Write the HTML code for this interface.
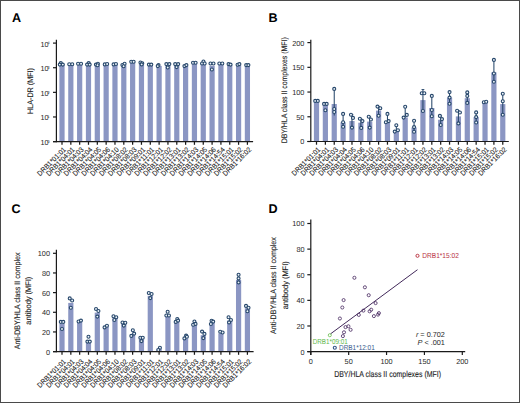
<!DOCTYPE html>
<html><head><meta charset="utf-8"><style>
html,body{margin:0;padding:0;background:#fff;width:520px;height:403px;overflow:hidden}
svg{display:block}
</style></head><body>
<svg width="520" height="403" viewBox="0 0 520 403">
<style>text{font-family:"Liberation Sans",sans-serif;fill:#333;text-rendering:geometricPrecision}.tk{font-size:7.3px;fill:#2a2a2a}.xl{font-size:7.2px;fill:#1e1e1e;stroke:#1e1e1e;stroke-width:0.1px}.pl{font-size:12.6px;font-weight:bold;fill:#000}.yl{font-size:7.2px;fill:#1e1e1e;stroke:#1e1e1e;stroke-width:0.12px}.sup{font-size:3.8px;fill:#2a2a2a}</style>
<rect x="0" y="0" width="520" height="403" fill="#fff"/>
<rect x="0.5" y="0.5" width="519" height="402" fill="none" stroke="#4a4a4a" stroke-width="1"/>
<text x="11.9" y="21.5" class="pl">A</text>
<text x="268.4" y="21.7" class="pl">B</text>
<text x="11.4" y="213" class="pl">C</text>
<text x="268.4" y="213" class="pl">D</text>
<rect x="59.40" y="64.40" width="5.20" height="77.20" fill="#8b96c3"/>
<rect x="68.23" y="64.50" width="5.20" height="77.10" fill="#8b96c3"/>
<rect x="77.06" y="64.00" width="5.20" height="77.60" fill="#8b96c3"/>
<rect x="85.89" y="64.40" width="5.20" height="77.20" fill="#8b96c3"/>
<rect x="94.72" y="64.80" width="5.20" height="76.80" fill="#8b96c3"/>
<rect x="103.55" y="64.50" width="5.20" height="77.10" fill="#8b96c3"/>
<rect x="112.37" y="64.50" width="5.20" height="77.10" fill="#8b96c3"/>
<rect x="121.20" y="65.27" width="5.20" height="76.33" fill="#8b96c3"/>
<rect x="130.03" y="62.00" width="5.20" height="79.60" fill="#8b96c3"/>
<rect x="138.86" y="63.70" width="5.20" height="77.90" fill="#8b96c3"/>
<rect x="147.69" y="64.90" width="5.20" height="76.70" fill="#8b96c3"/>
<rect x="156.52" y="65.90" width="5.20" height="75.70" fill="#8b96c3"/>
<rect x="165.35" y="65.53" width="5.20" height="76.07" fill="#8b96c3"/>
<rect x="174.18" y="65.40" width="5.20" height="76.20" fill="#8b96c3"/>
<rect x="183.01" y="65.90" width="5.20" height="75.70" fill="#8b96c3"/>
<rect x="191.84" y="63.00" width="5.20" height="78.60" fill="#8b96c3"/>
<rect x="200.66" y="63.13" width="5.20" height="78.47" fill="#8b96c3"/>
<rect x="209.49" y="65.80" width="5.20" height="75.80" fill="#8b96c3"/>
<rect x="218.32" y="63.80" width="5.20" height="77.80" fill="#8b96c3"/>
<rect x="227.15" y="64.65" width="5.20" height="76.95" fill="#8b96c3"/>
<rect x="235.98" y="64.70" width="5.20" height="76.90" fill="#8b96c3"/>
<rect x="244.81" y="65.40" width="5.20" height="76.20" fill="#8b96c3"/>
<circle cx="60.80" cy="63.10" r="1.5" fill="#eef5fb" stroke="#27476b" stroke-width="1.1"/>
<circle cx="59.80" cy="64.60" r="1.5" fill="#eef5fb" stroke="#27476b" stroke-width="1.1"/>
<circle cx="62.80" cy="64.60" r="1.5" fill="#eef5fb" stroke="#27476b" stroke-width="1.1"/>
<circle cx="69.23" cy="64.20" r="1.5" fill="#eef5fb" stroke="#27476b" stroke-width="1.1"/>
<circle cx="72.23" cy="64.20" r="1.5" fill="#eef5fb" stroke="#27476b" stroke-width="1.1"/>
<circle cx="78.06" cy="63.70" r="1.5" fill="#eef5fb" stroke="#27476b" stroke-width="1.1"/>
<circle cx="81.06" cy="63.70" r="1.5" fill="#eef5fb" stroke="#27476b" stroke-width="1.1"/>
<circle cx="88.69" cy="63.10" r="1.5" fill="#eef5fb" stroke="#27476b" stroke-width="1.1"/>
<circle cx="87.09" cy="64.60" r="1.5" fill="#eef5fb" stroke="#27476b" stroke-width="1.1"/>
<circle cx="89.69" cy="64.60" r="1.5" fill="#eef5fb" stroke="#27476b" stroke-width="1.1"/>
<circle cx="95.92" cy="64.60" r="1.5" fill="#eef5fb" stroke="#27476b" stroke-width="1.1"/>
<circle cx="97.92" cy="63.70" r="1.5" fill="#eef5fb" stroke="#27476b" stroke-width="1.1"/>
<circle cx="97.52" cy="65.20" r="1.5" fill="#eef5fb" stroke="#27476b" stroke-width="1.1"/>
<circle cx="104.75" cy="64.40" r="1.5" fill="#eef5fb" stroke="#27476b" stroke-width="1.1"/>
<circle cx="107.15" cy="64.00" r="1.5" fill="#eef5fb" stroke="#27476b" stroke-width="1.1"/>
<circle cx="113.57" cy="64.40" r="1.5" fill="#eef5fb" stroke="#27476b" stroke-width="1.1"/>
<circle cx="115.97" cy="64.00" r="1.5" fill="#eef5fb" stroke="#27476b" stroke-width="1.1"/>
<circle cx="122.40" cy="65.00" r="1.5" fill="#eef5fb" stroke="#27476b" stroke-width="1.1"/>
<circle cx="124.60" cy="63.70" r="1.5" fill="#eef5fb" stroke="#27476b" stroke-width="1.1"/>
<circle cx="123.60" cy="66.20" r="1.5" fill="#eef5fb" stroke="#27476b" stroke-width="1.1"/>
<circle cx="131.23" cy="61.70" r="1.5" fill="#eef5fb" stroke="#27476b" stroke-width="1.1"/>
<circle cx="133.63" cy="61.70" r="1.5" fill="#eef5fb" stroke="#27476b" stroke-width="1.1"/>
<circle cx="140.46" cy="62.50" r="1.5" fill="#eef5fb" stroke="#27476b" stroke-width="1.1"/>
<circle cx="142.26" cy="63.30" r="1.5" fill="#eef5fb" stroke="#27476b" stroke-width="1.1"/>
<circle cx="141.66" cy="64.40" r="1.5" fill="#eef5fb" stroke="#27476b" stroke-width="1.1"/>
<circle cx="148.89" cy="64.60" r="1.5" fill="#eef5fb" stroke="#27476b" stroke-width="1.1"/>
<circle cx="151.29" cy="64.60" r="1.5" fill="#eef5fb" stroke="#27476b" stroke-width="1.1"/>
<circle cx="158.52" cy="65.10" r="1.5" fill="#eef5fb" stroke="#27476b" stroke-width="1.1"/>
<circle cx="157.72" cy="66.10" r="1.5" fill="#eef5fb" stroke="#27476b" stroke-width="1.1"/>
<circle cx="166.35" cy="64.10" r="1.5" fill="#eef5fb" stroke="#27476b" stroke-width="1.1"/>
<circle cx="169.35" cy="64.10" r="1.5" fill="#eef5fb" stroke="#27476b" stroke-width="1.1"/>
<circle cx="167.75" cy="67.50" r="1.5" fill="#eef5fb" stroke="#27476b" stroke-width="1.1"/>
<circle cx="175.18" cy="64.10" r="1.5" fill="#eef5fb" stroke="#27476b" stroke-width="1.1"/>
<circle cx="178.18" cy="64.10" r="1.5" fill="#eef5fb" stroke="#27476b" stroke-width="1.1"/>
<circle cx="176.58" cy="67.10" r="1.5" fill="#eef5fb" stroke="#27476b" stroke-width="1.1"/>
<circle cx="184.41" cy="66.10" r="1.5" fill="#eef5fb" stroke="#27476b" stroke-width="1.1"/>
<circle cx="186.41" cy="65.10" r="1.5" fill="#eef5fb" stroke="#27476b" stroke-width="1.1"/>
<circle cx="193.03" cy="62.70" r="1.5" fill="#eef5fb" stroke="#27476b" stroke-width="1.1"/>
<circle cx="195.63" cy="62.70" r="1.5" fill="#eef5fb" stroke="#27476b" stroke-width="1.1"/>
<circle cx="203.46" cy="61.50" r="1.5" fill="#eef5fb" stroke="#27476b" stroke-width="1.1"/>
<circle cx="202.06" cy="63.50" r="1.5" fill="#eef5fb" stroke="#27476b" stroke-width="1.1"/>
<circle cx="204.66" cy="63.50" r="1.5" fill="#eef5fb" stroke="#27476b" stroke-width="1.1"/>
<circle cx="210.49" cy="63.50" r="1.5" fill="#eef5fb" stroke="#27476b" stroke-width="1.1"/>
<circle cx="213.49" cy="63.50" r="1.5" fill="#eef5fb" stroke="#27476b" stroke-width="1.1"/>
<circle cx="211.89" cy="69.50" r="1.5" fill="#eef5fb" stroke="#27476b" stroke-width="1.1"/>
<circle cx="219.32" cy="63.50" r="1.5" fill="#eef5fb" stroke="#27476b" stroke-width="1.1"/>
<circle cx="222.32" cy="63.50" r="1.5" fill="#eef5fb" stroke="#27476b" stroke-width="1.1"/>
<circle cx="228.55" cy="64.10" r="1.5" fill="#eef5fb" stroke="#27476b" stroke-width="1.1"/>
<circle cx="230.55" cy="64.60" r="1.5" fill="#eef5fb" stroke="#27476b" stroke-width="1.1"/>
<circle cx="237.58" cy="64.70" r="1.5" fill="#eef5fb" stroke="#27476b" stroke-width="1.1"/>
<circle cx="239.38" cy="64.10" r="1.5" fill="#eef5fb" stroke="#27476b" stroke-width="1.1"/>
<circle cx="246.21" cy="65.10" r="1.5" fill="#eef5fb" stroke="#27476b" stroke-width="1.1"/>
<circle cx="248.41" cy="65.10" r="1.5" fill="#eef5fb" stroke="#27476b" stroke-width="1.1"/>
<line x1="56.40" y1="39.80" x2="56.40" y2="142.20" stroke="#1a1a1a" stroke-width="1.2"/>
<line x1="53.00" y1="141.60" x2="253.10" y2="141.60" stroke="#1a1a1a" stroke-width="1.1"/>
<line x1="62.00" y1="141.60" x2="62.00" y2="144.80" stroke="#1a1a1a" stroke-width="1.25"/>
<text transform="translate(66.40,150.10) rotate(-45) scale(0.93,1)" text-anchor="end" class="xl">DRB1*01:01</text>
<line x1="70.83" y1="141.60" x2="70.83" y2="144.80" stroke="#1a1a1a" stroke-width="1.25"/>
<text transform="translate(75.23,150.10) rotate(-45) scale(0.93,1)" text-anchor="end" class="xl">DRB1*04:01</text>
<line x1="79.66" y1="141.60" x2="79.66" y2="144.80" stroke="#1a1a1a" stroke-width="1.25"/>
<text transform="translate(84.06,150.10) rotate(-45) scale(0.93,1)" text-anchor="end" class="xl">DRB1*04:03</text>
<line x1="88.49" y1="141.60" x2="88.49" y2="144.80" stroke="#1a1a1a" stroke-width="1.25"/>
<text transform="translate(92.89,150.10) rotate(-45) scale(0.93,1)" text-anchor="end" class="xl">DRB1*04:04</text>
<line x1="97.32" y1="141.60" x2="97.32" y2="144.80" stroke="#1a1a1a" stroke-width="1.25"/>
<text transform="translate(101.72,150.10) rotate(-45) scale(0.93,1)" text-anchor="end" class="xl">DRB1*04:05</text>
<line x1="106.15" y1="141.60" x2="106.15" y2="144.80" stroke="#1a1a1a" stroke-width="1.25"/>
<text transform="translate(110.55,150.10) rotate(-45) scale(0.93,1)" text-anchor="end" class="xl">DRB1*04:06</text>
<line x1="114.97" y1="141.60" x2="114.97" y2="144.80" stroke="#1a1a1a" stroke-width="1.25"/>
<text transform="translate(119.37,150.10) rotate(-45) scale(0.93,1)" text-anchor="end" class="xl">DRB1*04:10</text>
<line x1="123.80" y1="141.60" x2="123.80" y2="144.80" stroke="#1a1a1a" stroke-width="1.25"/>
<text transform="translate(128.20,150.10) rotate(-45) scale(0.93,1)" text-anchor="end" class="xl">DRB1*08:02</text>
<line x1="132.63" y1="141.60" x2="132.63" y2="144.80" stroke="#1a1a1a" stroke-width="1.25"/>
<text transform="translate(137.03,150.10) rotate(-45) scale(0.93,1)" text-anchor="end" class="xl">DRB1*08:03</text>
<line x1="141.46" y1="141.60" x2="141.46" y2="144.80" stroke="#1a1a1a" stroke-width="1.25"/>
<text transform="translate(145.86,150.10) rotate(-45) scale(0.93,1)" text-anchor="end" class="xl">DRB1*09:01</text>
<line x1="150.29" y1="141.60" x2="150.29" y2="144.80" stroke="#1a1a1a" stroke-width="1.25"/>
<text transform="translate(154.69,150.10) rotate(-45) scale(0.93,1)" text-anchor="end" class="xl">DRB1*11:01</text>
<line x1="159.12" y1="141.60" x2="159.12" y2="144.80" stroke="#1a1a1a" stroke-width="1.25"/>
<text transform="translate(163.52,150.10) rotate(-45) scale(0.93,1)" text-anchor="end" class="xl">DRB1*12:01</text>
<line x1="167.95" y1="141.60" x2="167.95" y2="144.80" stroke="#1a1a1a" stroke-width="1.25"/>
<text transform="translate(172.35,150.10) rotate(-45) scale(0.93,1)" text-anchor="end" class="xl">DRB1*12:02</text>
<line x1="176.78" y1="141.60" x2="176.78" y2="144.80" stroke="#1a1a1a" stroke-width="1.25"/>
<text transform="translate(181.18,150.10) rotate(-45) scale(0.93,1)" text-anchor="end" class="xl">DRB1*13:01</text>
<line x1="185.61" y1="141.60" x2="185.61" y2="144.80" stroke="#1a1a1a" stroke-width="1.25"/>
<text transform="translate(190.01,150.10) rotate(-45) scale(0.93,1)" text-anchor="end" class="xl">DRB1*13:02</text>
<line x1="194.44" y1="141.60" x2="194.44" y2="144.80" stroke="#1a1a1a" stroke-width="1.25"/>
<text transform="translate(198.84,150.10) rotate(-45) scale(0.93,1)" text-anchor="end" class="xl">DRB1*14:03</text>
<line x1="203.26" y1="141.60" x2="203.26" y2="144.80" stroke="#1a1a1a" stroke-width="1.25"/>
<text transform="translate(207.66,150.10) rotate(-45) scale(0.93,1)" text-anchor="end" class="xl">DRB1*14:05</text>
<line x1="212.09" y1="141.60" x2="212.09" y2="144.80" stroke="#1a1a1a" stroke-width="1.25"/>
<text transform="translate(216.49,150.10) rotate(-45) scale(0.93,1)" text-anchor="end" class="xl">DRB1*14:06</text>
<line x1="220.92" y1="141.60" x2="220.92" y2="144.80" stroke="#1a1a1a" stroke-width="1.25"/>
<text transform="translate(225.32,150.10) rotate(-45) scale(0.93,1)" text-anchor="end" class="xl">DRB1*14:54</text>
<line x1="229.75" y1="141.60" x2="229.75" y2="144.80" stroke="#1a1a1a" stroke-width="1.25"/>
<text transform="translate(234.15,150.10) rotate(-45) scale(0.93,1)" text-anchor="end" class="xl">DRB1*15:01</text>
<line x1="238.58" y1="141.60" x2="238.58" y2="144.80" stroke="#1a1a1a" stroke-width="1.25"/>
<text transform="translate(242.98,150.10) rotate(-45) scale(0.93,1)" text-anchor="end" class="xl">DRB1*15:02</text>
<line x1="247.41" y1="141.60" x2="247.41" y2="144.80" stroke="#1a1a1a" stroke-width="1.25"/>
<text transform="translate(251.81,150.10) rotate(-45) scale(0.93,1)" text-anchor="end" class="xl">DRB1*16:02</text>
<line x1="53.0" y1="43.10" x2="56.4" y2="43.10" stroke="#1a1a1a" stroke-width="1.2"/>
<text x="40.5" y="46.60" class="tk">10</text>
<text x="47.6" y="44.40" class="sup">4</text>
<line x1="53.0" y1="67.72" x2="56.4" y2="67.72" stroke="#1a1a1a" stroke-width="1.2"/>
<text x="40.5" y="71.22" class="tk">10</text>
<text x="47.6" y="69.02" class="sup">3</text>
<line x1="53.0" y1="92.35" x2="56.4" y2="92.35" stroke="#1a1a1a" stroke-width="1.2"/>
<text x="40.5" y="95.85" class="tk">10</text>
<text x="47.6" y="93.65" class="sup">2</text>
<line x1="53.0" y1="116.97" x2="56.4" y2="116.97" stroke="#1a1a1a" stroke-width="1.2"/>
<text x="40.5" y="120.47" class="tk">10</text>
<text x="47.6" y="118.27" class="sup">1</text>
<line x1="53.0" y1="141.60" x2="56.4" y2="141.60" stroke="#1a1a1a" stroke-width="1.2"/>
<text x="40.5" y="145.10" class="tk">10</text>
<text x="47.6" y="142.90" class="sup">0</text>
<text transform="translate(33.4,91.0) rotate(-90) scale(0.9,1)" text-anchor="middle" class="yl" style="font-size:8px">HLA-DR (MFI)</text>
<rect x="313.90" y="101.00" width="5.20" height="40.50" fill="#8b96c3"/>
<rect x="322.77" y="104.20" width="5.20" height="37.30" fill="#8b96c3"/>
<rect x="331.64" y="104.00" width="5.20" height="37.50" fill="#8b96c3"/>
<rect x="340.51" y="122.30" width="5.20" height="19.20" fill="#8b96c3"/>
<rect x="349.38" y="121.00" width="5.20" height="20.50" fill="#8b96c3"/>
<rect x="358.25" y="122.70" width="5.20" height="18.80" fill="#8b96c3"/>
<rect x="367.12" y="121.60" width="5.20" height="19.90" fill="#8b96c3"/>
<rect x="375.99" y="110.60" width="5.20" height="30.90" fill="#8b96c3"/>
<rect x="384.86" y="122.70" width="5.20" height="18.80" fill="#8b96c3"/>
<rect x="393.73" y="130.80" width="5.20" height="10.70" fill="#8b96c3"/>
<rect x="402.60" y="117.40" width="5.20" height="24.10" fill="#8b96c3"/>
<rect x="411.47" y="127.50" width="5.20" height="14.00" fill="#8b96c3"/>
<rect x="420.34" y="100.10" width="5.20" height="41.40" fill="#8b96c3"/>
<rect x="429.21" y="108.00" width="5.20" height="33.50" fill="#8b96c3"/>
<rect x="438.08" y="119.70" width="5.20" height="21.80" fill="#8b96c3"/>
<rect x="446.95" y="97.60" width="5.20" height="43.90" fill="#8b96c3"/>
<rect x="455.82" y="116.40" width="5.20" height="25.10" fill="#8b96c3"/>
<rect x="464.69" y="98.20" width="5.20" height="43.30" fill="#8b96c3"/>
<rect x="473.56" y="117.10" width="5.20" height="24.40" fill="#8b96c3"/>
<rect x="482.43" y="102.90" width="5.20" height="38.60" fill="#8b96c3"/>
<rect x="491.30" y="72.40" width="5.20" height="69.10" fill="#8b96c3"/>
<rect x="500.17" y="104.10" width="5.20" height="37.40" fill="#8b96c3"/>
<line x1="334.24" y1="88.90" x2="334.24" y2="115.50" stroke="#27476b" stroke-width="1.05"/>
<line x1="332.84" y1="88.90" x2="335.64" y2="88.90" stroke="#27476b" stroke-width="0.9"/>
<line x1="343.11" y1="113.90" x2="343.11" y2="126.80" stroke="#27476b" stroke-width="1.05"/>
<line x1="341.71" y1="113.90" x2="344.51" y2="113.90" stroke="#27476b" stroke-width="0.9"/>
<line x1="422.94" y1="89.50" x2="422.94" y2="111.00" stroke="#27476b" stroke-width="1.05"/>
<line x1="421.54" y1="89.50" x2="424.34" y2="89.50" stroke="#27476b" stroke-width="0.9"/>
<line x1="431.81" y1="95.90" x2="431.81" y2="116.30" stroke="#27476b" stroke-width="1.05"/>
<line x1="430.41" y1="95.90" x2="433.21" y2="95.90" stroke="#27476b" stroke-width="0.9"/>
<line x1="493.90" y1="59.90" x2="493.90" y2="81.80" stroke="#27476b" stroke-width="1.05"/>
<line x1="492.50" y1="59.90" x2="495.30" y2="59.90" stroke="#27476b" stroke-width="0.9"/>
<line x1="369.72" y1="116.80" x2="369.72" y2="127.60" stroke="#27476b" stroke-width="1.05"/>
<line x1="368.32" y1="116.80" x2="371.12" y2="116.80" stroke="#27476b" stroke-width="0.9"/>
<line x1="458.42" y1="110.80" x2="458.42" y2="123.40" stroke="#27476b" stroke-width="1.05"/>
<line x1="457.02" y1="110.80" x2="459.82" y2="110.80" stroke="#27476b" stroke-width="0.9"/>
<line x1="414.07" y1="120.80" x2="414.07" y2="131.70" stroke="#27476b" stroke-width="1.05"/>
<line x1="412.67" y1="120.80" x2="415.47" y2="120.80" stroke="#27476b" stroke-width="0.9"/>
<line x1="502.77" y1="93.80" x2="502.77" y2="114.70" stroke="#27476b" stroke-width="1.05"/>
<line x1="501.37" y1="93.80" x2="504.17" y2="93.80" stroke="#27476b" stroke-width="0.9"/>
<line x1="449.55" y1="92.10" x2="449.55" y2="103.70" stroke="#27476b" stroke-width="1.05"/>
<line x1="448.15" y1="92.10" x2="450.95" y2="92.10" stroke="#27476b" stroke-width="0.9"/>
<line x1="467.29" y1="92.40" x2="467.29" y2="102.90" stroke="#27476b" stroke-width="1.05"/>
<line x1="465.89" y1="92.40" x2="468.69" y2="92.40" stroke="#27476b" stroke-width="0.9"/>
<line x1="476.16" y1="112.40" x2="476.16" y2="122.50" stroke="#27476b" stroke-width="1.05"/>
<line x1="474.76" y1="112.40" x2="477.56" y2="112.40" stroke="#27476b" stroke-width="0.9"/>
<line x1="378.59" y1="106.60" x2="378.59" y2="115.80" stroke="#27476b" stroke-width="1.05"/>
<line x1="377.19" y1="106.60" x2="379.99" y2="106.60" stroke="#27476b" stroke-width="0.9"/>
<line x1="405.20" y1="106.80" x2="405.20" y2="117.60" stroke="#27476b" stroke-width="1.05"/>
<line x1="403.80" y1="106.80" x2="406.60" y2="106.80" stroke="#27476b" stroke-width="0.9"/>
<line x1="351.98" y1="114.70" x2="351.98" y2="127.60" stroke="#27476b" stroke-width="1.05"/>
<line x1="350.58" y1="114.70" x2="353.38" y2="114.70" stroke="#27476b" stroke-width="0.9"/>
<line x1="360.85" y1="118.70" x2="360.85" y2="127.90" stroke="#27476b" stroke-width="1.05"/>
<line x1="359.45" y1="118.70" x2="362.25" y2="118.70" stroke="#27476b" stroke-width="0.9"/>
<line x1="387.46" y1="113.90" x2="387.46" y2="122.30" stroke="#27476b" stroke-width="1.05"/>
<line x1="386.06" y1="113.90" x2="388.86" y2="113.90" stroke="#27476b" stroke-width="0.9"/>
<line x1="396.33" y1="125.20" x2="396.33" y2="131.60" stroke="#27476b" stroke-width="1.05"/>
<line x1="394.93" y1="125.20" x2="397.73" y2="125.20" stroke="#27476b" stroke-width="0.9"/>
<line x1="440.68" y1="115.90" x2="440.68" y2="125.00" stroke="#27476b" stroke-width="1.05"/>
<line x1="439.28" y1="115.90" x2="442.08" y2="115.90" stroke="#27476b" stroke-width="0.9"/>
<circle cx="315.20" cy="100.90" r="1.5" fill="#eef5fb" stroke="#27476b" stroke-width="1.1"/>
<circle cx="317.80" cy="100.90" r="1.5" fill="#eef5fb" stroke="#27476b" stroke-width="1.1"/>
<circle cx="324.07" cy="103.90" r="1.5" fill="#eef5fb" stroke="#27476b" stroke-width="1.1"/>
<circle cx="326.67" cy="103.90" r="1.5" fill="#eef5fb" stroke="#27476b" stroke-width="1.1"/>
<circle cx="325.37" cy="110.30" r="1.5" fill="#eef5fb" stroke="#27476b" stroke-width="1.1"/>
<circle cx="334.24" cy="88.90" r="1.5" fill="#eef5fb" stroke="#27476b" stroke-width="1.1"/>
<circle cx="334.24" cy="109.00" r="1.5" fill="#eef5fb" stroke="#27476b" stroke-width="1.1"/>
<circle cx="334.24" cy="112.00" r="1.5" fill="#eef5fb" stroke="#27476b" stroke-width="1.1"/>
<circle cx="343.11" cy="113.90" r="1.5" fill="#eef5fb" stroke="#27476b" stroke-width="1.1"/>
<circle cx="343.11" cy="122.30" r="1.5" fill="#eef5fb" stroke="#27476b" stroke-width="1.1"/>
<circle cx="343.11" cy="126.80" r="1.5" fill="#eef5fb" stroke="#27476b" stroke-width="1.1"/>
<circle cx="350.98" cy="114.70" r="1.5" fill="#eef5fb" stroke="#27476b" stroke-width="1.1"/>
<circle cx="352.98" cy="117.90" r="1.5" fill="#eef5fb" stroke="#27476b" stroke-width="1.1"/>
<circle cx="351.98" cy="127.60" r="1.5" fill="#eef5fb" stroke="#27476b" stroke-width="1.1"/>
<circle cx="359.85" cy="118.70" r="1.5" fill="#eef5fb" stroke="#27476b" stroke-width="1.1"/>
<circle cx="362.45" cy="121.10" r="1.5" fill="#eef5fb" stroke="#27476b" stroke-width="1.1"/>
<circle cx="361.25" cy="127.90" r="1.5" fill="#eef5fb" stroke="#27476b" stroke-width="1.1"/>
<circle cx="368.72" cy="116.80" r="1.5" fill="#eef5fb" stroke="#27476b" stroke-width="1.1"/>
<circle cx="370.92" cy="119.50" r="1.5" fill="#eef5fb" stroke="#27476b" stroke-width="1.1"/>
<circle cx="369.72" cy="127.60" r="1.5" fill="#eef5fb" stroke="#27476b" stroke-width="1.1"/>
<circle cx="377.49" cy="106.60" r="1.5" fill="#eef5fb" stroke="#27476b" stroke-width="1.1"/>
<circle cx="380.29" cy="108.20" r="1.5" fill="#eef5fb" stroke="#27476b" stroke-width="1.1"/>
<circle cx="378.59" cy="115.80" r="1.5" fill="#eef5fb" stroke="#27476b" stroke-width="1.1"/>
<circle cx="387.46" cy="113.90" r="1.5" fill="#eef5fb" stroke="#27476b" stroke-width="1.1"/>
<circle cx="385.86" cy="122.30" r="1.5" fill="#eef5fb" stroke="#27476b" stroke-width="1.1"/>
<circle cx="388.66" cy="121.10" r="1.5" fill="#eef5fb" stroke="#27476b" stroke-width="1.1"/>
<circle cx="396.33" cy="125.20" r="1.5" fill="#eef5fb" stroke="#27476b" stroke-width="1.1"/>
<circle cx="394.73" cy="131.60" r="1.5" fill="#eef5fb" stroke="#27476b" stroke-width="1.1"/>
<circle cx="397.93" cy="130.30" r="1.5" fill="#eef5fb" stroke="#27476b" stroke-width="1.1"/>
<circle cx="405.20" cy="106.80" r="1.5" fill="#eef5fb" stroke="#27476b" stroke-width="1.1"/>
<circle cx="406.80" cy="114.90" r="1.5" fill="#eef5fb" stroke="#27476b" stroke-width="1.1"/>
<circle cx="403.60" cy="117.60" r="1.5" fill="#eef5fb" stroke="#27476b" stroke-width="1.1"/>
<circle cx="414.07" cy="120.80" r="1.5" fill="#eef5fb" stroke="#27476b" stroke-width="1.1"/>
<circle cx="414.07" cy="127.10" r="1.5" fill="#eef5fb" stroke="#27476b" stroke-width="1.1"/>
<circle cx="414.07" cy="131.70" r="1.5" fill="#eef5fb" stroke="#27476b" stroke-width="1.1"/>
<circle cx="421.74" cy="93.30" r="1.5" fill="#eef5fb" stroke="#27476b" stroke-width="1.1"/>
<circle cx="424.34" cy="93.30" r="1.5" fill="#eef5fb" stroke="#27476b" stroke-width="1.1"/>
<circle cx="422.94" cy="111.00" r="1.5" fill="#eef5fb" stroke="#27476b" stroke-width="1.1"/>
<circle cx="431.81" cy="95.90" r="1.5" fill="#eef5fb" stroke="#27476b" stroke-width="1.1"/>
<circle cx="431.81" cy="110.00" r="1.5" fill="#eef5fb" stroke="#27476b" stroke-width="1.1"/>
<circle cx="431.81" cy="116.30" r="1.5" fill="#eef5fb" stroke="#27476b" stroke-width="1.1"/>
<circle cx="439.88" cy="115.90" r="1.5" fill="#eef5fb" stroke="#27476b" stroke-width="1.1"/>
<circle cx="441.98" cy="119.10" r="1.5" fill="#eef5fb" stroke="#27476b" stroke-width="1.1"/>
<circle cx="440.68" cy="125.00" r="1.5" fill="#eef5fb" stroke="#27476b" stroke-width="1.1"/>
<circle cx="449.55" cy="92.10" r="1.5" fill="#eef5fb" stroke="#27476b" stroke-width="1.1"/>
<circle cx="449.55" cy="97.60" r="1.5" fill="#eef5fb" stroke="#27476b" stroke-width="1.1"/>
<circle cx="449.55" cy="103.70" r="1.5" fill="#eef5fb" stroke="#27476b" stroke-width="1.1"/>
<circle cx="457.12" cy="110.80" r="1.5" fill="#eef5fb" stroke="#27476b" stroke-width="1.1"/>
<circle cx="459.92" cy="112.50" r="1.5" fill="#eef5fb" stroke="#27476b" stroke-width="1.1"/>
<circle cx="458.42" cy="123.40" r="1.5" fill="#eef5fb" stroke="#27476b" stroke-width="1.1"/>
<circle cx="467.29" cy="92.40" r="1.5" fill="#eef5fb" stroke="#27476b" stroke-width="1.1"/>
<circle cx="467.29" cy="95.90" r="1.5" fill="#eef5fb" stroke="#27476b" stroke-width="1.1"/>
<circle cx="467.29" cy="102.90" r="1.5" fill="#eef5fb" stroke="#27476b" stroke-width="1.1"/>
<circle cx="476.16" cy="112.40" r="1.5" fill="#eef5fb" stroke="#27476b" stroke-width="1.1"/>
<circle cx="476.16" cy="117.10" r="1.5" fill="#eef5fb" stroke="#27476b" stroke-width="1.1"/>
<circle cx="476.16" cy="122.50" r="1.5" fill="#eef5fb" stroke="#27476b" stroke-width="1.1"/>
<circle cx="483.83" cy="102.20" r="1.5" fill="#eef5fb" stroke="#27476b" stroke-width="1.1"/>
<circle cx="486.23" cy="101.80" r="1.5" fill="#eef5fb" stroke="#27476b" stroke-width="1.1"/>
<circle cx="493.90" cy="59.90" r="1.5" fill="#eef5fb" stroke="#27476b" stroke-width="1.1"/>
<circle cx="493.90" cy="73.50" r="1.5" fill="#eef5fb" stroke="#27476b" stroke-width="1.1"/>
<circle cx="493.90" cy="81.80" r="1.5" fill="#eef5fb" stroke="#27476b" stroke-width="1.1"/>
<circle cx="502.77" cy="93.80" r="1.5" fill="#eef5fb" stroke="#27476b" stroke-width="1.1"/>
<circle cx="502.77" cy="101.30" r="1.5" fill="#eef5fb" stroke="#27476b" stroke-width="1.1"/>
<circle cx="502.77" cy="114.70" r="1.5" fill="#eef5fb" stroke="#27476b" stroke-width="1.1"/>
<line x1="310.80" y1="39.70" x2="310.80" y2="142.10" stroke="#1a1a1a" stroke-width="1.2"/>
<line x1="307.40" y1="141.50" x2="508.80" y2="141.50" stroke="#1a1a1a" stroke-width="1.1"/>
<line x1="307.40" y1="141.50" x2="310.80" y2="141.50" stroke="#1a1a1a" stroke-width="1.2"/>
<text x="304.40" y="144.40" text-anchor="end" class="tk">0</text>
<line x1="307.40" y1="116.78" x2="310.80" y2="116.78" stroke="#1a1a1a" stroke-width="1.2"/>
<text x="304.40" y="119.68" text-anchor="end" class="tk">50</text>
<line x1="307.40" y1="92.05" x2="310.80" y2="92.05" stroke="#1a1a1a" stroke-width="1.2"/>
<text x="304.40" y="94.95" text-anchor="end" class="tk">100</text>
<line x1="307.40" y1="67.33" x2="310.80" y2="67.33" stroke="#1a1a1a" stroke-width="1.2"/>
<text x="304.40" y="70.23" text-anchor="end" class="tk">150</text>
<line x1="307.40" y1="42.60" x2="310.80" y2="42.60" stroke="#1a1a1a" stroke-width="1.2"/>
<text x="304.40" y="45.50" text-anchor="end" class="tk">200</text>
<line x1="316.50" y1="141.50" x2="316.50" y2="144.70" stroke="#1a1a1a" stroke-width="1.25"/>
<text transform="translate(320.90,150.00) rotate(-45) scale(0.93,1)" text-anchor="end" class="xl">DRB1*01:01</text>
<line x1="325.37" y1="141.50" x2="325.37" y2="144.70" stroke="#1a1a1a" stroke-width="1.25"/>
<text transform="translate(329.77,150.00) rotate(-45) scale(0.93,1)" text-anchor="end" class="xl">DRB1*04:01</text>
<line x1="334.24" y1="141.50" x2="334.24" y2="144.70" stroke="#1a1a1a" stroke-width="1.25"/>
<text transform="translate(338.64,150.00) rotate(-45) scale(0.93,1)" text-anchor="end" class="xl">DRB1*04:03</text>
<line x1="343.11" y1="141.50" x2="343.11" y2="144.70" stroke="#1a1a1a" stroke-width="1.25"/>
<text transform="translate(347.51,150.00) rotate(-45) scale(0.93,1)" text-anchor="end" class="xl">DRB1*04:04</text>
<line x1="351.98" y1="141.50" x2="351.98" y2="144.70" stroke="#1a1a1a" stroke-width="1.25"/>
<text transform="translate(356.38,150.00) rotate(-45) scale(0.93,1)" text-anchor="end" class="xl">DRB1*04:05</text>
<line x1="360.85" y1="141.50" x2="360.85" y2="144.70" stroke="#1a1a1a" stroke-width="1.25"/>
<text transform="translate(365.25,150.00) rotate(-45) scale(0.93,1)" text-anchor="end" class="xl">DRB1*04:06</text>
<line x1="369.72" y1="141.50" x2="369.72" y2="144.70" stroke="#1a1a1a" stroke-width="1.25"/>
<text transform="translate(374.12,150.00) rotate(-45) scale(0.93,1)" text-anchor="end" class="xl">DRB1*04:10</text>
<line x1="378.59" y1="141.50" x2="378.59" y2="144.70" stroke="#1a1a1a" stroke-width="1.25"/>
<text transform="translate(382.99,150.00) rotate(-45) scale(0.93,1)" text-anchor="end" class="xl">DRB1*08:02</text>
<line x1="387.46" y1="141.50" x2="387.46" y2="144.70" stroke="#1a1a1a" stroke-width="1.25"/>
<text transform="translate(391.86,150.00) rotate(-45) scale(0.93,1)" text-anchor="end" class="xl">DRB1*08:03</text>
<line x1="396.33" y1="141.50" x2="396.33" y2="144.70" stroke="#1a1a1a" stroke-width="1.25"/>
<text transform="translate(400.73,150.00) rotate(-45) scale(0.93,1)" text-anchor="end" class="xl">DRB1*09:01</text>
<line x1="405.20" y1="141.50" x2="405.20" y2="144.70" stroke="#1a1a1a" stroke-width="1.25"/>
<text transform="translate(409.60,150.00) rotate(-45) scale(0.93,1)" text-anchor="end" class="xl">DRB1*11:01</text>
<line x1="414.07" y1="141.50" x2="414.07" y2="144.70" stroke="#1a1a1a" stroke-width="1.25"/>
<text transform="translate(418.47,150.00) rotate(-45) scale(0.93,1)" text-anchor="end" class="xl">DRB1*12:01</text>
<line x1="422.94" y1="141.50" x2="422.94" y2="144.70" stroke="#1a1a1a" stroke-width="1.25"/>
<text transform="translate(427.34,150.00) rotate(-45) scale(0.93,1)" text-anchor="end" class="xl">DRB1*12:02</text>
<line x1="431.81" y1="141.50" x2="431.81" y2="144.70" stroke="#1a1a1a" stroke-width="1.25"/>
<text transform="translate(436.21,150.00) rotate(-45) scale(0.93,1)" text-anchor="end" class="xl">DRB1*13:01</text>
<line x1="440.68" y1="141.50" x2="440.68" y2="144.70" stroke="#1a1a1a" stroke-width="1.25"/>
<text transform="translate(445.08,150.00) rotate(-45) scale(0.93,1)" text-anchor="end" class="xl">DRB1*13:02</text>
<line x1="449.55" y1="141.50" x2="449.55" y2="144.70" stroke="#1a1a1a" stroke-width="1.25"/>
<text transform="translate(453.95,150.00) rotate(-45) scale(0.93,1)" text-anchor="end" class="xl">DRB1*14:03</text>
<line x1="458.42" y1="141.50" x2="458.42" y2="144.70" stroke="#1a1a1a" stroke-width="1.25"/>
<text transform="translate(462.82,150.00) rotate(-45) scale(0.93,1)" text-anchor="end" class="xl">DRB1*14:05</text>
<line x1="467.29" y1="141.50" x2="467.29" y2="144.70" stroke="#1a1a1a" stroke-width="1.25"/>
<text transform="translate(471.69,150.00) rotate(-45) scale(0.93,1)" text-anchor="end" class="xl">DRB1*14:06</text>
<line x1="476.16" y1="141.50" x2="476.16" y2="144.70" stroke="#1a1a1a" stroke-width="1.25"/>
<text transform="translate(480.56,150.00) rotate(-45) scale(0.93,1)" text-anchor="end" class="xl">DRB1*14:54</text>
<line x1="485.03" y1="141.50" x2="485.03" y2="144.70" stroke="#1a1a1a" stroke-width="1.25"/>
<text transform="translate(489.43,150.00) rotate(-45) scale(0.93,1)" text-anchor="end" class="xl">DRB1*15:01</text>
<line x1="493.90" y1="141.50" x2="493.90" y2="144.70" stroke="#1a1a1a" stroke-width="1.25"/>
<text transform="translate(498.30,150.00) rotate(-45) scale(0.93,1)" text-anchor="end" class="xl">DRB1*15:02</text>
<line x1="502.77" y1="141.50" x2="502.77" y2="144.70" stroke="#1a1a1a" stroke-width="1.25"/>
<text transform="translate(507.17,150.00) rotate(-45) scale(0.93,1)" text-anchor="end" class="xl">DRB1*16:02</text>
<text transform="translate(287.3,90.3) rotate(-90) scale(0.865,1)" text-anchor="middle" class="yl" style="font-size:8px">DBY/HLA class II complexes (MFI)</text>
<rect x="59.40" y="323.90" width="5.20" height="27.70" fill="#8b96c3"/>
<rect x="68.23" y="302.90" width="5.20" height="48.70" fill="#8b96c3"/>
<rect x="77.06" y="321.50" width="5.20" height="30.10" fill="#8b96c3"/>
<rect x="85.89" y="341.60" width="5.20" height="10.00" fill="#8b96c3"/>
<rect x="94.72" y="312.60" width="5.20" height="39.00" fill="#8b96c3"/>
<rect x="103.55" y="327.00" width="5.20" height="24.60" fill="#8b96c3"/>
<rect x="112.37" y="318.20" width="5.20" height="33.40" fill="#8b96c3"/>
<rect x="121.20" y="323.80" width="5.20" height="27.80" fill="#8b96c3"/>
<rect x="130.03" y="334.90" width="5.20" height="16.70" fill="#8b96c3"/>
<rect x="138.86" y="339.20" width="5.20" height="12.40" fill="#8b96c3"/>
<rect x="147.69" y="295.80" width="5.20" height="55.80" fill="#8b96c3"/>
<rect x="156.52" y="348.70" width="5.20" height="2.90" fill="#8b96c3"/>
<rect x="165.35" y="315.80" width="5.20" height="35.80" fill="#8b96c3"/>
<rect x="174.18" y="321.50" width="5.20" height="30.10" fill="#8b96c3"/>
<rect x="183.01" y="338.40" width="5.20" height="13.20" fill="#8b96c3"/>
<rect x="191.84" y="324.70" width="5.20" height="26.90" fill="#8b96c3"/>
<rect x="200.66" y="335.20" width="5.20" height="16.40" fill="#8b96c3"/>
<rect x="209.49" y="323.00" width="5.20" height="28.60" fill="#8b96c3"/>
<rect x="218.32" y="333.40" width="5.20" height="18.20" fill="#8b96c3"/>
<rect x="227.15" y="320.70" width="5.20" height="30.90" fill="#8b96c3"/>
<rect x="235.98" y="280.00" width="5.20" height="71.60" fill="#8b96c3"/>
<rect x="244.81" y="308.20" width="5.20" height="43.40" fill="#8b96c3"/>
<circle cx="60.80" cy="321.90" r="1.5" fill="#eef5fb" stroke="#27476b" stroke-width="1.1"/>
<circle cx="63.30" cy="321.90" r="1.5" fill="#eef5fb" stroke="#27476b" stroke-width="1.1"/>
<circle cx="62.00" cy="329.00" r="1.5" fill="#eef5fb" stroke="#27476b" stroke-width="1.1"/>
<circle cx="69.73" cy="298.40" r="1.5" fill="#eef5fb" stroke="#27476b" stroke-width="1.1"/>
<circle cx="72.13" cy="300.50" r="1.5" fill="#eef5fb" stroke="#27476b" stroke-width="1.1"/>
<circle cx="70.83" cy="307.70" r="1.5" fill="#eef5fb" stroke="#27476b" stroke-width="1.1"/>
<circle cx="78.56" cy="321.50" r="1.5" fill="#eef5fb" stroke="#27476b" stroke-width="1.1"/>
<circle cx="80.96" cy="320.60" r="1.5" fill="#eef5fb" stroke="#27476b" stroke-width="1.1"/>
<circle cx="88.49" cy="336.80" r="1.5" fill="#eef5fb" stroke="#27476b" stroke-width="1.1"/>
<circle cx="87.39" cy="341.60" r="1.5" fill="#eef5fb" stroke="#27476b" stroke-width="1.1"/>
<circle cx="89.79" cy="341.60" r="1.5" fill="#eef5fb" stroke="#27476b" stroke-width="1.1"/>
<circle cx="96.02" cy="309.00" r="1.5" fill="#eef5fb" stroke="#27476b" stroke-width="1.1"/>
<circle cx="98.42" cy="311.00" r="1.5" fill="#eef5fb" stroke="#27476b" stroke-width="1.1"/>
<circle cx="97.32" cy="316.60" r="1.5" fill="#eef5fb" stroke="#27476b" stroke-width="1.1"/>
<circle cx="104.55" cy="327.40" r="1.5" fill="#eef5fb" stroke="#27476b" stroke-width="1.1"/>
<circle cx="106.95" cy="325.80" r="1.5" fill="#eef5fb" stroke="#27476b" stroke-width="1.1"/>
<circle cx="113.47" cy="316.30" r="1.5" fill="#eef5fb" stroke="#27476b" stroke-width="1.1"/>
<circle cx="116.27" cy="317.20" r="1.5" fill="#eef5fb" stroke="#27476b" stroke-width="1.1"/>
<circle cx="114.37" cy="320.00" r="1.5" fill="#eef5fb" stroke="#27476b" stroke-width="1.1"/>
<circle cx="122.50" cy="322.50" r="1.5" fill="#eef5fb" stroke="#27476b" stroke-width="1.1"/>
<circle cx="125.30" cy="322.80" r="1.5" fill="#eef5fb" stroke="#27476b" stroke-width="1.1"/>
<circle cx="123.80" cy="325.60" r="1.5" fill="#eef5fb" stroke="#27476b" stroke-width="1.1"/>
<circle cx="132.83" cy="330.30" r="1.5" fill="#eef5fb" stroke="#27476b" stroke-width="1.1"/>
<circle cx="134.13" cy="333.60" r="1.5" fill="#eef5fb" stroke="#27476b" stroke-width="1.1"/>
<circle cx="131.33" cy="335.90" r="1.5" fill="#eef5fb" stroke="#27476b" stroke-width="1.1"/>
<circle cx="140.36" cy="337.70" r="1.5" fill="#eef5fb" stroke="#27476b" stroke-width="1.1"/>
<circle cx="142.76" cy="337.70" r="1.5" fill="#eef5fb" stroke="#27476b" stroke-width="1.1"/>
<circle cx="141.46" cy="341.10" r="1.5" fill="#eef5fb" stroke="#27476b" stroke-width="1.1"/>
<circle cx="148.79" cy="293.00" r="1.5" fill="#eef5fb" stroke="#27476b" stroke-width="1.1"/>
<circle cx="151.59" cy="294.00" r="1.5" fill="#eef5fb" stroke="#27476b" stroke-width="1.1"/>
<circle cx="150.29" cy="298.10" r="1.5" fill="#eef5fb" stroke="#27476b" stroke-width="1.1"/>
<circle cx="159.92" cy="347.70" r="1.5" fill="#eef5fb" stroke="#27476b" stroke-width="1.1"/>
<circle cx="158.32" cy="350.00" r="1.5" fill="#eef5fb" stroke="#27476b" stroke-width="1.1"/>
<circle cx="167.65" cy="311.80" r="1.5" fill="#eef5fb" stroke="#27476b" stroke-width="1.1"/>
<circle cx="166.35" cy="315.50" r="1.5" fill="#eef5fb" stroke="#27476b" stroke-width="1.1"/>
<circle cx="168.95" cy="315.50" r="1.5" fill="#eef5fb" stroke="#27476b" stroke-width="1.1"/>
<circle cx="177.28" cy="319.00" r="1.5" fill="#eef5fb" stroke="#27476b" stroke-width="1.1"/>
<circle cx="175.68" cy="321.90" r="1.5" fill="#eef5fb" stroke="#27476b" stroke-width="1.1"/>
<circle cx="178.08" cy="320.60" r="1.5" fill="#eef5fb" stroke="#27476b" stroke-width="1.1"/>
<circle cx="186.11" cy="335.60" r="1.5" fill="#eef5fb" stroke="#27476b" stroke-width="1.1"/>
<circle cx="184.41" cy="338.40" r="1.5" fill="#eef5fb" stroke="#27476b" stroke-width="1.1"/>
<circle cx="186.91" cy="336.80" r="1.5" fill="#eef5fb" stroke="#27476b" stroke-width="1.1"/>
<circle cx="194.44" cy="321.50" r="1.5" fill="#eef5fb" stroke="#27476b" stroke-width="1.1"/>
<circle cx="193.13" cy="324.70" r="1.5" fill="#eef5fb" stroke="#27476b" stroke-width="1.1"/>
<circle cx="195.53" cy="323.90" r="1.5" fill="#eef5fb" stroke="#27476b" stroke-width="1.1"/>
<circle cx="202.06" cy="331.60" r="1.5" fill="#eef5fb" stroke="#27476b" stroke-width="1.1"/>
<circle cx="204.46" cy="333.90" r="1.5" fill="#eef5fb" stroke="#27476b" stroke-width="1.1"/>
<circle cx="203.36" cy="338.10" r="1.5" fill="#eef5fb" stroke="#27476b" stroke-width="1.1"/>
<circle cx="211.59" cy="320.70" r="1.5" fill="#eef5fb" stroke="#27476b" stroke-width="1.1"/>
<circle cx="213.19" cy="321.60" r="1.5" fill="#eef5fb" stroke="#27476b" stroke-width="1.1"/>
<circle cx="210.89" cy="324.00" r="1.5" fill="#eef5fb" stroke="#27476b" stroke-width="1.1"/>
<circle cx="220.22" cy="331.80" r="1.5" fill="#eef5fb" stroke="#27476b" stroke-width="1.1"/>
<circle cx="222.62" cy="332.50" r="1.5" fill="#eef5fb" stroke="#27476b" stroke-width="1.1"/>
<circle cx="228.55" cy="317.20" r="1.5" fill="#eef5fb" stroke="#27476b" stroke-width="1.1"/>
<circle cx="230.95" cy="320.00" r="1.5" fill="#eef5fb" stroke="#27476b" stroke-width="1.1"/>
<circle cx="229.05" cy="322.40" r="1.5" fill="#eef5fb" stroke="#27476b" stroke-width="1.1"/>
<circle cx="238.58" cy="274.80" r="1.5" fill="#eef5fb" stroke="#27476b" stroke-width="1.1"/>
<circle cx="238.58" cy="278.40" r="1.5" fill="#eef5fb" stroke="#27476b" stroke-width="1.1"/>
<circle cx="238.58" cy="282.40" r="1.5" fill="#eef5fb" stroke="#27476b" stroke-width="1.1"/>
<circle cx="246.01" cy="305.90" r="1.5" fill="#eef5fb" stroke="#27476b" stroke-width="1.1"/>
<circle cx="248.51" cy="307.80" r="1.5" fill="#eef5fb" stroke="#27476b" stroke-width="1.1"/>
<circle cx="247.41" cy="311.30" r="1.5" fill="#eef5fb" stroke="#27476b" stroke-width="1.1"/>
<line x1="56.40" y1="249.80" x2="56.40" y2="352.20" stroke="#1a1a1a" stroke-width="1.2"/>
<line x1="53.00" y1="351.60" x2="253.60" y2="351.60" stroke="#1a1a1a" stroke-width="1.1"/>
<line x1="53.00" y1="351.60" x2="56.40" y2="351.60" stroke="#1a1a1a" stroke-width="1.2"/>
<text x="50.00" y="354.50" text-anchor="end" class="tk">0</text>
<line x1="53.00" y1="331.94" x2="56.40" y2="331.94" stroke="#1a1a1a" stroke-width="1.2"/>
<text x="50.00" y="334.84" text-anchor="end" class="tk">20</text>
<line x1="53.00" y1="312.28" x2="56.40" y2="312.28" stroke="#1a1a1a" stroke-width="1.2"/>
<text x="50.00" y="315.18" text-anchor="end" class="tk">40</text>
<line x1="53.00" y1="292.62" x2="56.40" y2="292.62" stroke="#1a1a1a" stroke-width="1.2"/>
<text x="50.00" y="295.52" text-anchor="end" class="tk">60</text>
<line x1="53.00" y1="272.96" x2="56.40" y2="272.96" stroke="#1a1a1a" stroke-width="1.2"/>
<text x="50.00" y="275.86" text-anchor="end" class="tk">80</text>
<line x1="53.00" y1="253.30" x2="56.40" y2="253.30" stroke="#1a1a1a" stroke-width="1.2"/>
<text x="50.00" y="256.20" text-anchor="end" class="tk">100</text>
<line x1="62.00" y1="351.60" x2="62.00" y2="354.80" stroke="#1a1a1a" stroke-width="1.25"/>
<text transform="translate(66.40,362.00) rotate(-45) scale(0.93,1)" text-anchor="end" class="xl">DRB1*01:01</text>
<line x1="70.83" y1="351.60" x2="70.83" y2="354.80" stroke="#1a1a1a" stroke-width="1.25"/>
<text transform="translate(75.23,362.00) rotate(-45) scale(0.93,1)" text-anchor="end" class="xl">DRB1*04:01</text>
<line x1="79.66" y1="351.60" x2="79.66" y2="354.80" stroke="#1a1a1a" stroke-width="1.25"/>
<text transform="translate(84.06,362.00) rotate(-45) scale(0.93,1)" text-anchor="end" class="xl">DRB1*04:03</text>
<line x1="88.49" y1="351.60" x2="88.49" y2="354.80" stroke="#1a1a1a" stroke-width="1.25"/>
<text transform="translate(92.89,362.00) rotate(-45) scale(0.93,1)" text-anchor="end" class="xl">DRB1*04:04</text>
<line x1="97.32" y1="351.60" x2="97.32" y2="354.80" stroke="#1a1a1a" stroke-width="1.25"/>
<text transform="translate(101.72,362.00) rotate(-45) scale(0.93,1)" text-anchor="end" class="xl">DRB1*04:05</text>
<line x1="106.15" y1="351.60" x2="106.15" y2="354.80" stroke="#1a1a1a" stroke-width="1.25"/>
<text transform="translate(110.55,362.00) rotate(-45) scale(0.93,1)" text-anchor="end" class="xl">DRB1*04:06</text>
<line x1="114.97" y1="351.60" x2="114.97" y2="354.80" stroke="#1a1a1a" stroke-width="1.25"/>
<text transform="translate(119.37,362.00) rotate(-45) scale(0.93,1)" text-anchor="end" class="xl">DRB1*04:10</text>
<line x1="123.80" y1="351.60" x2="123.80" y2="354.80" stroke="#1a1a1a" stroke-width="1.25"/>
<text transform="translate(128.20,362.00) rotate(-45) scale(0.93,1)" text-anchor="end" class="xl">DRB1*08:02</text>
<line x1="132.63" y1="351.60" x2="132.63" y2="354.80" stroke="#1a1a1a" stroke-width="1.25"/>
<text transform="translate(137.03,362.00) rotate(-45) scale(0.93,1)" text-anchor="end" class="xl">DRB1*08:03</text>
<line x1="141.46" y1="351.60" x2="141.46" y2="354.80" stroke="#1a1a1a" stroke-width="1.25"/>
<text transform="translate(145.86,362.00) rotate(-45) scale(0.93,1)" text-anchor="end" class="xl">DRB1*09:01</text>
<line x1="150.29" y1="351.60" x2="150.29" y2="354.80" stroke="#1a1a1a" stroke-width="1.25"/>
<text transform="translate(154.69,362.00) rotate(-45) scale(0.93,1)" text-anchor="end" class="xl">DRB1*11:01</text>
<line x1="159.12" y1="351.60" x2="159.12" y2="354.80" stroke="#1a1a1a" stroke-width="1.25"/>
<text transform="translate(163.52,362.00) rotate(-45) scale(0.93,1)" text-anchor="end" class="xl">DRB1*12:01</text>
<line x1="167.95" y1="351.60" x2="167.95" y2="354.80" stroke="#1a1a1a" stroke-width="1.25"/>
<text transform="translate(172.35,362.00) rotate(-45) scale(0.93,1)" text-anchor="end" class="xl">DRB1*12:02</text>
<line x1="176.78" y1="351.60" x2="176.78" y2="354.80" stroke="#1a1a1a" stroke-width="1.25"/>
<text transform="translate(181.18,362.00) rotate(-45) scale(0.93,1)" text-anchor="end" class="xl">DRB1*13:01</text>
<line x1="185.61" y1="351.60" x2="185.61" y2="354.80" stroke="#1a1a1a" stroke-width="1.25"/>
<text transform="translate(190.01,362.00) rotate(-45) scale(0.93,1)" text-anchor="end" class="xl">DRB1*13:02</text>
<line x1="194.44" y1="351.60" x2="194.44" y2="354.80" stroke="#1a1a1a" stroke-width="1.25"/>
<text transform="translate(198.84,362.00) rotate(-45) scale(0.93,1)" text-anchor="end" class="xl">DRB1*14:03</text>
<line x1="203.26" y1="351.60" x2="203.26" y2="354.80" stroke="#1a1a1a" stroke-width="1.25"/>
<text transform="translate(207.66,362.00) rotate(-45) scale(0.93,1)" text-anchor="end" class="xl">DRB1*14:05</text>
<line x1="212.09" y1="351.60" x2="212.09" y2="354.80" stroke="#1a1a1a" stroke-width="1.25"/>
<text transform="translate(216.49,362.00) rotate(-45) scale(0.93,1)" text-anchor="end" class="xl">DRB1*14:06</text>
<line x1="220.92" y1="351.60" x2="220.92" y2="354.80" stroke="#1a1a1a" stroke-width="1.25"/>
<text transform="translate(225.32,362.00) rotate(-45) scale(0.93,1)" text-anchor="end" class="xl">DRB1*14:54</text>
<line x1="229.75" y1="351.60" x2="229.75" y2="354.80" stroke="#1a1a1a" stroke-width="1.25"/>
<text transform="translate(234.15,362.00) rotate(-45) scale(0.93,1)" text-anchor="end" class="xl">DRB1*15:01</text>
<line x1="238.58" y1="351.60" x2="238.58" y2="354.80" stroke="#1a1a1a" stroke-width="1.25"/>
<text transform="translate(242.98,362.00) rotate(-45) scale(0.93,1)" text-anchor="end" class="xl">DRB1*15:02</text>
<line x1="247.41" y1="351.60" x2="247.41" y2="354.80" stroke="#1a1a1a" stroke-width="1.25"/>
<text transform="translate(251.81,362.00) rotate(-45) scale(0.93,1)" text-anchor="end" class="xl">DRB1*16:02</text>
<text transform="translate(19.6,300.9) rotate(-90) scale(0.885,1)" text-anchor="middle" class="yl" style="font-size:8px">Anti-DBY/HLA class II complex</text>
<text transform="translate(31.2,300.65) rotate(-90) scale(0.93,1)" text-anchor="middle" class="yl" style="font-size:8px">antibody (MFI)</text>
<line x1="310.80" y1="219.5" x2="310.80" y2="355.00" stroke="#1a1a1a" stroke-width="1.2"/>
<line x1="307.3" y1="351.60" x2="465.2" y2="351.60" stroke="#1a1a1a" stroke-width="1.1"/>
<line x1="307.3" y1="351.60" x2="310.80" y2="351.60" stroke="#1a1a1a" stroke-width="1.2"/>
<text x="304.5" y="354.50" text-anchor="end" class="tk">0</text>
<line x1="307.3" y1="325.98" x2="310.80" y2="325.98" stroke="#1a1a1a" stroke-width="1.2"/>
<text x="304.5" y="328.88" text-anchor="end" class="tk">20</text>
<line x1="307.3" y1="300.36" x2="310.80" y2="300.36" stroke="#1a1a1a" stroke-width="1.2"/>
<text x="304.5" y="303.26" text-anchor="end" class="tk">40</text>
<line x1="307.3" y1="274.74" x2="310.80" y2="274.74" stroke="#1a1a1a" stroke-width="1.2"/>
<text x="304.5" y="277.64" text-anchor="end" class="tk">60</text>
<line x1="307.3" y1="249.12" x2="310.80" y2="249.12" stroke="#1a1a1a" stroke-width="1.2"/>
<text x="304.5" y="252.02" text-anchor="end" class="tk">80</text>
<line x1="307.3" y1="223.50" x2="310.80" y2="223.50" stroke="#1a1a1a" stroke-width="1.2"/>
<text x="304.5" y="226.40" text-anchor="end" class="tk">100</text>
<line x1="310.80" y1="351.60" x2="310.80" y2="355.00" stroke="#1a1a1a" stroke-width="1.2"/>
<text x="310.80" y="363.90" text-anchor="middle" class="tk">0</text>
<line x1="348.68" y1="351.60" x2="348.68" y2="355.00" stroke="#1a1a1a" stroke-width="1.2"/>
<text x="348.68" y="363.90" text-anchor="middle" class="tk">50</text>
<line x1="386.55" y1="351.60" x2="386.55" y2="355.00" stroke="#1a1a1a" stroke-width="1.2"/>
<text x="386.55" y="363.90" text-anchor="middle" class="tk">100</text>
<line x1="424.43" y1="351.60" x2="424.43" y2="355.00" stroke="#1a1a1a" stroke-width="1.2"/>
<text x="424.43" y="363.90" text-anchor="middle" class="tk">150</text>
<line x1="462.30" y1="351.60" x2="462.30" y2="355.00" stroke="#1a1a1a" stroke-width="1.2"/>
<text x="462.30" y="363.90" text-anchor="middle" class="tk">200</text>
<line x1="330.5" y1="333.9" x2="417.5" y2="269.7" stroke="#42295a" stroke-width="1.0"/>
<circle cx="354.40" cy="277.80" r="1.55" fill="none" stroke="#4e3066" stroke-width="0.85"/>
<circle cx="364.90" cy="287.30" r="1.55" fill="none" stroke="#4e3066" stroke-width="0.85"/>
<circle cx="368.70" cy="295.20" r="1.55" fill="none" stroke="#4e3066" stroke-width="0.85"/>
<circle cx="343.60" cy="300.10" r="1.55" fill="none" stroke="#4e3066" stroke-width="0.85"/>
<circle cx="342.30" cy="307.50" r="1.55" fill="none" stroke="#4e3066" stroke-width="0.85"/>
<circle cx="375.60" cy="303.10" r="1.55" fill="none" stroke="#4e3066" stroke-width="0.85"/>
<circle cx="363.40" cy="310.60" r="1.55" fill="none" stroke="#4e3066" stroke-width="0.85"/>
<circle cx="369.60" cy="311.30" r="1.55" fill="none" stroke="#4e3066" stroke-width="0.85"/>
<circle cx="371.20" cy="309.70" r="1.55" fill="none" stroke="#4e3066" stroke-width="0.85"/>
<circle cx="358.80" cy="314.90" r="1.55" fill="none" stroke="#4e3066" stroke-width="0.85"/>
<circle cx="373.90" cy="316.10" r="1.55" fill="none" stroke="#4e3066" stroke-width="0.85"/>
<circle cx="378.00" cy="314.60" r="1.55" fill="none" stroke="#4e3066" stroke-width="0.85"/>
<circle cx="378.90" cy="313.10" r="1.55" fill="none" stroke="#4e3066" stroke-width="0.85"/>
<circle cx="339.90" cy="318.50" r="1.55" fill="none" stroke="#4e3066" stroke-width="0.85"/>
<circle cx="345.50" cy="327.10" r="1.55" fill="none" stroke="#4e3066" stroke-width="0.85"/>
<circle cx="348.40" cy="326.30" r="1.55" fill="none" stroke="#4e3066" stroke-width="0.85"/>
<circle cx="350.60" cy="329.80" r="1.55" fill="none" stroke="#4e3066" stroke-width="0.85"/>
<circle cx="344.00" cy="332.30" r="1.55" fill="none" stroke="#4e3066" stroke-width="0.85"/>
<circle cx="342.90" cy="336.10" r="1.55" fill="none" stroke="#4e3066" stroke-width="0.85"/>
<circle cx="329.8" cy="335.2" r="1.55" fill="none" stroke="#6bbf52" stroke-width="0.85"/>
<circle cx="334.8" cy="347.7" r="1.5" fill="none" stroke="#34568a" stroke-width="1.15"/>
<circle cx="417.5" cy="255.8" r="1.55" fill="none" stroke="#b8323f" stroke-width="0.95"/>
<text transform="translate(422.3,258.4) scale(0.9,1)" class="tk" style="fill:#b8323f">DRB1*15:02</text>
<text transform="translate(312.8,344.0) scale(0.86,1)" class="tk" style="fill:#62b84e">DRB1*09:01</text>
<text transform="translate(339.0,350.2) scale(0.88,1)" class="tk" style="fill:#3a5d8f">DRB1*12:01</text>
<text x="415.9" y="336.6" class="tk"><tspan font-style="italic">r</tspan> = 0.702</text>
<text x="417.5" y="345.1" class="tk"><tspan font-style="italic">P</tspan> &lt; .001</text>
<text transform="translate(387.6,376.9) scale(0.82,1)" text-anchor="middle" class="yl" style="font-size:8.5px">DBY/HLA class II complexes (MFI)</text>
<text transform="translate(276.2,285.55) rotate(-90) scale(0.885,1)" text-anchor="middle" class="yl" style="font-size:8px">Anti-DBY/HLA class II complex</text>
<text transform="translate(287.5,285.3) rotate(-90) scale(0.93,1)" text-anchor="middle" class="yl" style="font-size:8px">antibody (MFI)</text>
</svg>
</body></html>
